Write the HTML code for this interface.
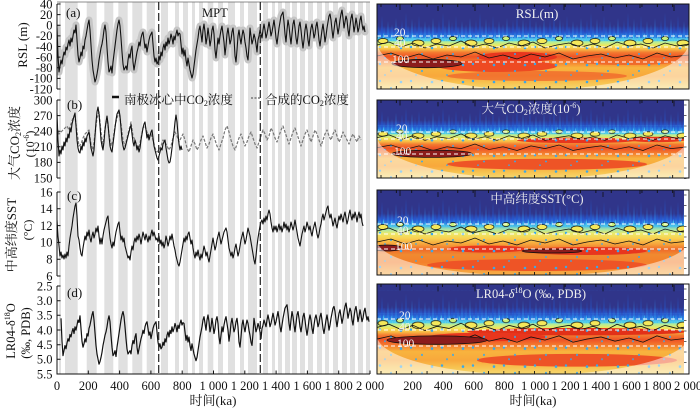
<!DOCTYPE html>
<html><head><meta charset="utf-8">
<style>
html,body{margin:0;padding:0;background:#fff;width:700px;height:410px;overflow:hidden}
svg{display:block}
text{font-family:"Liberation Serif","Noto Serif CJK SC",serif;fill:#111}
</style></head><body>
<svg xmlns="http://www.w3.org/2000/svg" xmlns:xlink="http://www.w3.org/1999/xlink" width="700" height="410" viewBox="0 0 700 410">
<defs>
<linearGradient id="wg" x1="0" y1="0" x2="0" y2="1">
<stop offset="0" stop-color="#30358a"/>
<stop offset="0.26" stop-color="#30358a"/>
<stop offset="0.33" stop-color="#2a4cc0"/>
<stop offset="0.38" stop-color="#2a86e4"/>
<stop offset="0.42" stop-color="#60d0ea"/>
<stop offset="0.45" stop-color="#b8ee94"/>
<stop offset="0.49" stop-color="#f2e85a"/>
<stop offset="0.53" stop-color="#f8be46"/>
<stop offset="0.57" stop-color="#f37a30"/>
<stop offset="0.62" stop-color="#ee5426"/>
<stop offset="0.68" stop-color="#f47c2e"/>
<stop offset="0.75" stop-color="#f8b43e"/>
<stop offset="0.85" stop-color="#f8a83c"/>
<stop offset="0.93" stop-color="#f7c452"/>
<stop offset="1" stop-color="#f6d870"/>
</linearGradient>
<linearGradient id="wg3" x1="0" y1="0" x2="0" y2="1">
<stop offset="0" stop-color="#30358a"/>
<stop offset="0.28" stop-color="#30358a"/>
<stop offset="0.35" stop-color="#2c56cc"/>
<stop offset="0.41" stop-color="#3aa8ea"/>
<stop offset="0.46" stop-color="#9ee4b0"/>
<stop offset="0.51" stop-color="#ecea6a"/>
<stop offset="0.57" stop-color="#f8d050"/>
<stop offset="0.64" stop-color="#f6a23a"/>
<stop offset="0.70" stop-color="#ef6a2a"/>
<stop offset="0.76" stop-color="#f08a30"/>
<stop offset="0.85" stop-color="#f4802c"/>
<stop offset="1" stop-color="#f6b048"/>
</linearGradient>
<clipPath id="cl"><rect x="57" y="2" width="313" height="372"/></clipPath>
<clipPath id="c1"><rect x="377" y="4" width="312" height="85"/></clipPath>
<clipPath id="c2"><rect x="377" y="100" width="312" height="78"/></clipPath>
<clipPath id="c3"><rect x="377" y="190" width="312" height="85"/></clipPath>
<clipPath id="c4"><rect x="377" y="284" width="312" height="90"/></clipPath>

<pattern id="fl" patternUnits="userSpaceOnUse" x="0" y="6" width="37" height="28">
<path fill="#2060dc" d="M0.5,28L1,12L1.5,28Z M4.4,28L5,6L5.6,28Z M8.5,28L9,22L9.5,28Z M12.4,28L13,17L13.6,28Z M16.5,28L17,21L17.5,28Z M20.4,28L21,15L21.6,28Z M24.4,28L25,10L25.6,28Z M28.4,28L29,3L29.6,28Z M32.5,28L33,20L33.5,28Z"/>
<path fill="#2b86ea" d="M2.5,28L3,20L3.5,28Z M6.5,28L7,16L7.5,28Z M10.4,28L11,11L11.6,28Z M14.5,28L15,14L15.5,28Z M18.4,28L19,8L19.6,28Z M22.5,28L23,23L23.5,28Z M26.5,28L27,19L27.5,28Z M30.5,28L31,15L31.5,28Z M34.4,28L35,9L35.6,28Z"/>
</pattern>
<pattern id="fc" patternUnits="userSpaceOnUse" x="0" y="28" width="29" height="9">
<path fill="#48c8ee" d="M0,9L1.2,3L2.4,9Z M2.6,9L3.8,6L5,9Z M5.2,9L6.4,1L7.6,9Z M7.8,9L9,5L10.2,9Z M10.4,9L11.6,7L12.8,9Z M13,9L14.2,2L15.4,9Z M15.6,9L16.8,6L18,9Z M18.2,9L19.4,4L20.6,9Z M20.8,9L22,8L23.2,9Z M23.4,9L24.6,2L25.8,9Z M26,9L27.2,5L28.4,9Z"/>
</pattern>
<pattern id="yb" patternUnits="userSpaceOnUse" x="0" y="31" width="53" height="12">
<ellipse cx="6" cy="6" rx="5" ry="2.5" fill="#f4e85a" stroke="#111" stroke-width="0.7"/>
<ellipse cx="23" cy="3.5" rx="3.5" ry="2" fill="#c8f07a" stroke="#111" stroke-width="0.7"/>
<ellipse cx="41" cy="8" rx="6" ry="3" fill="#f4e85a" stroke="#111" stroke-width="0.7"/>
</pattern>
<pattern id="dt" patternUnits="userSpaceOnUse" x="0" y="40" width="31" height="17">
<g fill="#3aa8ea">
<circle cx="3" cy="3" r="1.2"/><circle cx="14" cy="10" r="1"/><circle cx="24" cy="4" r="1.3"/><circle cx="8" cy="14" r="0.9"/>
</g>
</pattern>

<g id="common">
<rect x="0" y="6" width="312" height="28" fill="url(#fl)"/>
<rect x="0" y="28" width="312" height="9" fill="url(#fc)"/>
<rect x="0" y="31" width="312" height="12" fill="url(#yb)"/>
<rect x="0" y="40" width="312" height="45" fill="url(#dt)"/>
<path fill="none" stroke="#111" stroke-width="0.8" d="M0,41 L12,38 L24,43 L36,39 L48,44 L60,40 L72,42 L84,37 L96,43 L108,40 L120,44 L132,39 L144,42 L156,38 L168,44 L180,41 L192,39 L204,43 L216,40 L228,44 L240,38 L252,42 L264,40 L276,44 L288,39 L300,42 L312,40"/>
<path fill="none" stroke="#111" stroke-width="0.8" d="M0,52 L14,49 L28,54 L42,50 L56,55 L70,51 L84,53 L98,48 L112,54 L126,51 L140,55 L154,50 L168,53 L182,49 L196,55 L210,52 L224,50 L238,54 L252,51 L266,55 L280,49 L294,53 L312,51"/>
<path stroke="#111" stroke-width="0.8" d="M23,0v6M61,2v5M98,0v7M142,1v4M187,0v6M226,2v5M263,0v4M297,1v6"/>
</g>

<path id="tk" fill="none" stroke="#111" stroke-width="0.9" d="M381,0v-3M396.35,0v-3M411.7,0v-3M427.05,0v-3M442.4,0v-3M457.75,0v-3M473.1,0v-3M488.45,0v-3M503.8,0v-3M519.15,0v-3M534.5,0v-3M549.85,0v-3M565.2,0v-3M580.55,0v-3M595.9,0v-3M611.25,0v-3M626.6,0v-3M641.95,0v-3M657.3,0v-3M672.65,0v-3"/>
<path id="stk" fill="none" stroke="#333" stroke-width="0.8" d="M684,5h2.5M684,15.5h2.5M684,26h2.5M684,36.5h2.5M684,47h2.5M684,57.5h2.5M684,68h2.5M684,78.5h2.5"/>

<polyline id="rp" points="57,28 58,55 59,72 60,66 61,60 62,64 63,57 64,52 65,55 66,47 67,50 68,44 69,40 70,46 71,38 72,42 73,36 74,30 75,33 76,25 77,40 78,55 79,62 80,58 81,52 82,56 83,46 84,49 85,40 86,36 87,30 88,24 89,20 90,30 91,45 92,60 93,70 94,76 95,82 96,79 97,74 98,68 99,60 100,54 101,48 102,44 103,38 104,30 105,25 106,32 107,48 108,62 109,72 110,70 111,66 112,73 113,62 114,54 115,46 116,38 117,30 118,24 119,20 120,26 121,38 122,52 123,64 124,70 125,68 126,66 127,70 128,60 129,54 130,58 131,50 132,46 133,62 134,70 135,64 136,58 137,52 138,48 139,42 140,46 141,38 142,34 143,32 144,40 145,48 146,44 147,52 148,46 149,40 150,36 151,34 152,32 153,44 154,56 155,62 156,58 157,64 158,62 159,56 160,60 161,52 162,56 163,48 164,44 165,50 166,42 167,46 168,38 169,44 170,40 171,34 172,38 173,44 174,36 175,40 176,34 177,30 178,36 179,33 180,34 181,44 182,54 183,48 184,56 185,50 186,60 187,66 188,58 189,64 190,70 191,74 192,78 193,74 194,66 195,58 196,50 197,44 198,38 199,30 200,26 201,34 202,42 203,30 204,24 205,32 206,44 207,38 208,28 209,36 210,46 211,40 212,30 213,26 214,34 215,50 216,58 217,48 218,38 219,44 220,36 221,30 222,26 223,34 224,42 225,55 226,46 227,34 228,28 229,36 230,44 231,40 232,32 233,28 234,38 235,56 236,62 237,50 238,36 239,30 240,38 241,44 242,36 243,30 244,34 245,42 246,48 247,56 248,60 249,46 250,28 251,36 252,44 253,40 254,34 255,38 256,44 257,52 258,40 259,36 260,30 261,34 262,38 263,30 264,24 265,30 266,38 267,34 268,28 269,22 270,28 271,36 272,32 273,26 274,20 275,28 276,38 277,44 278,36 279,28 280,22 281,16 282,14 283,12 284,22 285,34 286,42 287,30 288,20 289,26 290,36 291,44 292,34 293,24 294,20 295,28 296,38 297,44 298,36 299,26 300,22 301,30 302,40 303,48 304,40 305,30 306,24 307,30 308,40 309,46 310,36 311,28 312,24 313,30 314,38 315,34 316,26 317,22 318,30 319,40 320,46 321,38 322,30 323,24 324,32 325,42 326,36 327,28 328,22 329,16 330,14 331,20 332,30 333,38 334,30 335,22 336,18 337,26 338,34 339,28 340,20 341,14 342,10 343,18 344,28 345,22 346,16 347,20 348,30 349,36 350,26 351,18 352,14 353,22 354,32 355,26 356,18 357,24 358,32 359,28 360,20 361,16 362,24 363,30 364,26 365,32"/>
</defs>

<!-- grey bands -->
<g fill="#e0e0e0">
<rect x="59" y="2" width="2" height="372"/><rect x="65" y="2" width="12.7" height="372"/><rect x="86.7" y="2" width="10" height="372"/><rect x="104.3" y="2" width="9" height="372"/><rect x="118.3" y="2" width="9.4" height="372"/><rect x="132.3" y="2" width="10" height="372"/><rect x="146.7" y="2" width="8.3" height="372"/><rect x="161" y="2" width="7" height="372"/><rect x="175" y="2" width="4" height="372"/><rect x="183" y="2" width="5" height="372"/><rect x="192" y="2" width="3" height="372"/><rect x="199" y="2" width="4" height="372"/><rect x="207.7" y="2" width="5.6" height="372"/><rect x="218" y="2" width="5" height="372"/><rect x="228" y="2" width="7" height="372"/><rect x="240" y="2" width="4" height="372"/><rect x="248" y="2" width="9" height="372"/><rect x="263" y="2" width="5" height="372"/><rect x="272" y="2" width="3" height="372"/><rect x="278" y="2" width="4" height="372"/><rect x="285" y="2" width="5" height="372"/><rect x="292" y="2" width="5" height="372"/><rect x="300" y="2" width="5" height="372"/><rect x="308" y="2" width="5" height="372"/><rect x="317" y="2" width="5" height="372"/><rect x="325" y="2" width="4" height="372"/><rect x="333" y="2" width="5" height="372"/><rect x="342" y="2" width="5" height="372"/><rect x="350" y="2" width="5" height="372"/><rect x="358" y="2" width="5" height="372"/><rect x="366" y="2" width="4" height="372"/>
</g>
<line x1="57" y1="2" x2="370" y2="2" stroke="#666" stroke-width="0.8"/>

<!-- series -->
<g clip-path="url(#cl)" fill="none" stroke-linejoin="round">
<use xlink:href="#rp" href="#rp" stroke="#c6c6c6" stroke-width="7" stroke-linecap="round"/>
<use xlink:href="#rp" href="#rp" stroke="#111" stroke-width="1.1"/>
<polyline stroke="#777" stroke-width="1.2" stroke-dasharray="3 1.5" points="57,128 59,134 61,132 63,130 65,128 67,126 69,130 71,124 73,118 75,116 77,132 79,146 81,144 83,138 85,134 87,132 89,130 91,144 93,150 95,134 97,118 99,112 101,132 103,146 105,128 107,118 109,134 111,146 113,140 115,126 117,118 119,112 121,124 123,140 125,146 127,138 129,130 131,122 133,136 135,140 137,146 139,148 141,138 143,128 145,126 147,132 149,136 151,134 153,140 155,148 157,152 159,150 161,146 163,140 165,142 167,146 169,150 171,146 173,138 175,132 177,136 179,142 181,138 183,134 185,140 187,148 189,152 191,146 193,140 195,144 197,150 199,146 201,140 203,136 205,142 207,148 209,144 211,138 213,134 215,140 217,146 219,150 221,144 223,138 225,130 227,126 229,132 231,140 233,146 235,150 237,144 239,138 241,134 243,140 245,146 247,142 249,136 251,132 253,138 255,144 257,148 259,142 261,136 263,130 265,134 267,140 269,136 271,128 273,132 275,138 277,142 279,136 281,130 283,126 285,132 287,138 289,144 291,138 293,132 295,128 297,134 299,140 301,146 303,140 305,134 307,130 309,136 311,142 313,136 315,130 317,134 319,140 321,146 323,140 325,134 327,130 329,136 331,140 333,134 335,130 337,136 339,142 341,138 343,132 345,136 347,140 349,144 351,138 353,134 355,138 357,142 359,136 361,140"/>
<polyline stroke="#111" stroke-width="1.1" points="57,113 58,140 59,156 60,150 61,154 62,146 63,150 64,142 65,146 66,138 67,142 68,134 69,138 70,128 71,132 72,124 73,120 74,116 75,113 76,126 77,140 78,148 79,152 80,153 81,146 82,150 83,142 84,146 85,138 86,142 87,136 88,134 89,132 90,140 91,148 92,152 93,156 94,150 95,136 96,122 97,112 98,107 99,114 100,126 101,140 102,146 103,150 104,142 105,130 106,122 107,116 108,124 109,136 110,146 111,150 112,152 113,144 114,136 115,128 116,120 117,114 118,112 119,110 120,116 121,128 122,140 123,146 124,150 125,148 126,144 127,140 128,136 129,132 130,128 131,125 132,134 133,142 134,146 135,140 136,144 137,150 138,146 139,152 140,148 141,140 142,134 143,128 144,124 145,122 146,130 147,138 148,134 149,140 150,136 151,132 152,130 153,138 154,146 155,150 156,154 157,158 158,160 159,156 160,152 161,148 162,150 163,144 164,142 165,140 166,148 167,154 168,160 169,163 170,162 171,156 172,148 173,140 174,132 175,122 176,115 177,122 178,134 179,144 180,150 181,146 182,150"/>
<polyline stroke="#111" stroke-width="1.1" points="57,220 58,236 59,246 60,256 61,252 62,258 63,255 64,259 65,254 66,258 67,252 68,256 69,246 70,238 71,232 72,226 73,218 74,212 75,206 76,203 77,216 78,236 79,240 80,248 81,254 82,256 83,248 84,242 85,236 86,240 87,232 88,236 89,230 90,238 91,242 92,236 93,232 94,238 95,234 96,228 97,232 98,226 99,236 100,244 101,238 102,244 103,236 104,230 105,226 106,222 107,218 108,216 109,228 110,238 111,244 112,248 113,242 114,246 115,238 116,232 117,228 118,224 119,222 120,232 121,240 122,236 123,242 124,238 125,246 126,250 127,254 128,258 129,256 130,260 131,252 132,246 133,250 134,242 135,238 136,242 137,236 138,240 139,234 140,238 141,244 142,238 143,232 144,236 145,240 146,234 147,238 148,242 149,236 150,240 151,234 152,230 153,236 154,232 155,236 156,240 157,238 158,242 159,236 160,244 161,240 162,246 163,242 164,248 165,244 166,236 167,240 168,246 169,242 170,236 171,240 172,234 173,240 174,246 175,250 176,256 177,260 178,264 179,266 180,262 181,256 182,250 183,244 184,238 185,242 186,236 187,240 188,234 189,232 190,238 191,244 192,240 193,248 194,254 195,258 196,252 197,256 198,250 199,256 200,260 201,254 202,258 203,252 204,246 205,250 206,256 207,252 208,258 209,262 210,256 211,250 212,244 213,238 214,244 215,250 216,246 217,240 218,236 219,232 220,238 221,244 222,240 223,236 224,232 225,230 226,228 227,232 228,240 229,248 230,252 231,256 232,252 233,258 234,254 235,248 236,244 237,250 238,256 239,252 240,246 241,240 242,236 243,232 244,238 245,244 246,240 247,234 248,228 249,232 250,236 251,242 252,248 253,254 254,260 255,264 256,256 257,246 258,238 259,232 260,226 261,222 262,220 263,224 264,218 265,222 266,216 267,220 268,214 269,210 270,214 271,222 272,228 273,232 274,226 275,230 276,226 277,232 278,228 279,224 280,230 281,226 282,232 283,228 284,222 285,228 286,224 287,230 288,226 289,232 290,228 291,222 292,226 293,230 294,226 295,220 296,226 297,232 298,238 299,242 300,246 301,240 302,234 303,230 304,226 305,232 306,228 307,222 308,226 309,230 310,226 311,232 312,236 313,230 314,226 315,222 316,228 317,234 318,238 319,234 320,228 321,224 322,218 323,214 324,220 325,216 326,212 327,208 328,206 329,214 330,218 331,214 332,220 333,226 334,222 335,218 336,224 337,228 338,222 339,216 340,220 341,214 342,218 343,222 344,216 345,212 346,218 347,224 348,220 349,214 350,210 351,216 352,220 353,214 354,218 355,212 356,216 357,222 358,216 359,212 360,218 361,214 362,222 363,226"/>
<use xlink:href="#rp" href="#rp" stroke="#111" stroke-width="1.2" transform="translate(4,294.5) scale(1,0.85)"/>
</g>

<g stroke="#222" stroke-width="1.2" stroke-dasharray="8 3">
<line x1="158.7" y1="2" x2="158.7" y2="374"/>
<line x1="260.3" y1="2" x2="260.3" y2="374"/>
</g>

<!-- left axes -->
<g stroke="#111" stroke-width="1" fill="none">
<path d="M57,4V89M57,100V178M57,192V276M57,286V374H370"/>
<path d="M57,4h3.5M57,14.6h3.5M57,25.25h3.5M57,35.9h3.5M57,46.5h3.5M57,57.1h3.5M57,67.75h3.5M57,78.4h3.5M57,89h3.5
M57,100h3.5M57,115.6h3.5M57,131.2h3.5M57,146.8h3.5M57,162.4h3.5M57,178h3.5
M57,192h3.5M57,208.8h3.5M57,225.6h3.5M57,242.4h3.5M57,259.2h3.5M57,276h3.5
M57,286h3.5M57,300.7h3.5M57,315.3h3.5M57,330h3.5M57,344.7h3.5M57,359.3h3.5
M57,374v-3.5M88.3,374v-3.5M119.6,374v-3.5M150.9,374v-3.5M182.2,374v-3.5M213.5,374v-3.5M244.8,374v-3.5M276.1,374v-3.5M307.4,374v-3.5M338.7,374v-3.5M370,374v-3.5"/>
</g>
<g font-size="12.5" text-anchor="end">
<text x="52.5" y="8.3">40</text><text x="52.5" y="18.9">20</text><text x="52.5" y="29.5">0</text><text x="52.5" y="40.2">-20</text><text x="52.5" y="50.8">-40</text><text x="52.5" y="61.4">-60</text><text x="52.5" y="72">-80</text><text x="52.5" y="82.7">-100</text><text x="52.5" y="93.3">-120</text>
<text x="52.5" y="104.3">300</text><text x="52.5" y="119.9">270</text><text x="52.5" y="135.5">240</text><text x="52.5" y="151.1">210</text><text x="52.5" y="166.7">180</text><text x="52.5" y="182.3">150</text>
<text x="52.5" y="196.3">16</text><text x="52.5" y="213.1">14</text><text x="52.5" y="229.9">12</text><text x="52.5" y="246.7">10</text><text x="52.5" y="263.5">8</text><text x="52.5" y="280.3">6</text>
<text x="52.5" y="290.3">2.5</text><text x="52.5" y="305">3.0</text><text x="52.5" y="319.6">3.5</text><text x="52.5" y="334.3">4.0</text><text x="52.5" y="349">4.5</text><text x="52.5" y="363.6">5.0</text><text x="52.5" y="378.3">5.5</text>
</g>
<g font-size="12.5" text-anchor="middle">
<text x="57" y="390">0</text><text x="88.3" y="390">200</text><text x="119.6" y="390">400</text><text x="150.9" y="390">600</text><text x="182.2" y="390">800</text><text x="213.5" y="390">1 000</text><text x="244.8" y="390">1 200</text><text x="276.1" y="390">1 400</text><text x="307.4" y="390">1 600</text><text x="338.7" y="390">1 800</text><text x="370" y="390">2 000</text>
<text x="412.6" y="390">200</text><text x="443.2" y="390">400</text><text x="473.8" y="390">600</text><text x="504.4" y="390">800</text><text x="535" y="390">1 000</text><text x="565.6" y="390">1 200</text><text x="596.2" y="390">1 400</text><text x="626.8" y="390">1 600</text><text x="657.4" y="390">1 800</text><text x="688" y="390">2 000</text>
</g>

<!-- wavelet panel 1 -->
<g clip-path="url(#c1)">
<g transform="translate(377,4)">
<rect width="312" height="85" fill="url(#wg)"/>
<ellipse cx="140" cy="53" rx="40" ry="5" fill="#e8361e"/>
<ellipse cx="120" cy="62" rx="60" ry="6" fill="#ee4a22"/>
<ellipse cx="250" cy="57" rx="50" ry="4" fill="#f06a2a"/>
<ellipse cx="160" cy="72" rx="90" ry="5" fill="#ee5426" opacity="0.6"/>
<use xlink:href="#common" href="#common"/>
<ellipse cx="50" cy="59.5" rx="35" ry="4.2" fill="#8c1c1c" stroke="#111" stroke-width="0.8"/>
<path d="M0,37.4L0,86L312,86L312,37.4A156,48.6 0 0 1 0,37.4Z" fill="#fff" opacity="0.5"/>
</g>
<g stroke="#fff" stroke-width="1.1" stroke-dasharray="4 3">
<line x1="377" x2="689" y1="36" y2="36"/><line x1="377" x2="689" y1="47" y2="47"/><line x1="377" x2="689" y1="62" y2="62"/>
</g>
<g font-size="11.5"><text x="394" y="36" style="fill:#f2f2f2">20</text><text x="394" y="46.5" style="fill:#f2f2f2">40</text><text x="392" y="63" style="fill:#f2f2f2">100</text></g>
</g>

<!-- wavelet panel 2 -->
<g clip-path="url(#c2)">
<g transform="translate(377,100) scale(1,0.9176)">
<rect width="312" height="85" fill="url(#wg)"/>
<ellipse cx="200" cy="44" rx="60" ry="3" fill="#e8361e"/>
<ellipse cx="280" cy="43" rx="30" ry="3" fill="#e8361e"/>
<ellipse cx="170" cy="70" rx="100" ry="6" fill="#ee5426"/>
<use xlink:href="#common" href="#common"/>
<ellipse cx="55" cy="58.6" rx="40" ry="4" fill="#8c1c1c" stroke="#111" stroke-width="0.8"/>
<path d="M0,39.1L0,86L312,86L312,39.1A156,46.9 0 0 1 0,39.1Z" fill="#fff" opacity="0.5"/>
</g>
<g stroke="#fff" stroke-width="1.1" stroke-dasharray="4 3">
<line x1="377" x2="689" y1="132" y2="132"/><line x1="377" x2="689" y1="139" y2="139"/><line x1="377" x2="689" y1="154" y2="154"/>
</g>
<g font-size="11.5"><text x="396" y="132" style="fill:#f2f2f2">20</text><text x="396" y="139.5" style="fill:#f2f2f2">40</text><text x="394" y="155" style="fill:#f2f2f2">100</text></g>
</g>

<!-- wavelet panel 3 -->
<g clip-path="url(#c3)">
<g transform="translate(377,190)">
<rect width="312" height="85" fill="url(#wg3)"/>
<ellipse cx="110" cy="59" rx="40" ry="3.5" fill="#e8361e"/>
<ellipse cx="210" cy="61" rx="60" ry="4" fill="#e8361e"/>
<ellipse cx="160" cy="75" rx="110" ry="6" fill="#ee5426"/>
<use xlink:href="#common" href="#common"/>
<ellipse cx="10" cy="58" rx="15" ry="3" fill="#8c1c1c" stroke="#111" stroke-width="0.8"/>
<ellipse cx="175" cy="61" rx="30" ry="2" fill="#8c1c1c" stroke="#111" stroke-width="0.8"/>
<path d="M0,50.2L0,86L312,86L312,50.2A156,35.8 0 0 1 0,50.2Z" fill="#fff" opacity="0.5"/>
</g>
<g stroke="#fff" stroke-width="1.1" stroke-dasharray="4 3">
<line x1="377" x2="689" y1="224" y2="224"/><line x1="377" x2="689" y1="234" y2="234"/><line x1="377" x2="689" y1="249" y2="249"/>
</g>
<g font-size="11.5"><text x="397" y="224" style="fill:#f2f2f2">20</text><text x="397" y="234" style="fill:#f2f2f2">40</text><text x="395" y="250" style="fill:#f2f2f2">100</text></g>
</g>

<!-- wavelet panel 4 -->
<g clip-path="url(#c4)">
<g transform="translate(377,284) scale(1,1.0588)">
<rect width="312" height="85" fill="url(#wg)"/>
<ellipse cx="200" cy="45" rx="110" ry="3.5" fill="#e23018"/>
<ellipse cx="110" cy="50" rx="60" ry="4" fill="#e8361e"/>
<ellipse cx="200" cy="72" rx="100" ry="6" fill="#ee5426"/>
<use xlink:href="#common" href="#common"/>
<ellipse cx="60" cy="53" rx="50" ry="4" fill="#8c1c1c" stroke="#111" stroke-width="0.8"/>
<path d="M0,48.5L0,86L312,86L312,48.5A156,37.5 0 0 1 0,48.5Z" fill="#fff" opacity="0.5"/>
</g>
<g stroke="#fff" stroke-width="1.1" stroke-dasharray="4 3">
<line x1="377" x2="689" y1="319" y2="319"/><line x1="377" x2="689" y1="330" y2="330"/><line x1="377" x2="689" y1="346" y2="346"/>
</g>
<g font-size="11.5"><text x="399" y="319" style="fill:#f2f2f2">20</text><text x="399" y="330.5" style="fill:#f2f2f2">40</text><text x="397" y="347" style="fill:#f2f2f2">100</text></g>
</g>

<!-- right panel frames -->
<g>
<rect x="684" y="100" width="5" height="78" fill="#fff"/>
<rect x="684" y="190" width="5" height="85" fill="#fff"/>
<rect x="684" y="284" width="5" height="90" fill="#fff"/>
<use xlink:href="#stk" href="#stk" transform="translate(0,100)"/>
<use xlink:href="#stk" href="#stk" transform="translate(0,190)"/>
<use xlink:href="#stk" href="#stk" transform="translate(0,284)"/>
<use xlink:href="#tk" href="#tk" transform="translate(0,89)"/>
<use xlink:href="#tk" href="#tk" transform="translate(0,178)"/>
<use xlink:href="#tk" href="#tk" transform="translate(0,275)"/>
<use xlink:href="#tk" href="#tk" transform="translate(0,374)"/>
<use xlink:href="#tk" href="#tk" transform="translate(0,4) scale(1,-1)"/>
<use xlink:href="#tk" href="#tk" transform="translate(0,100) scale(1,-1)"/>
<use xlink:href="#tk" href="#tk" transform="translate(0,190) scale(1,-1)"/>
<use xlink:href="#tk" href="#tk" transform="translate(0,284) scale(1,-1)"/>
<g fill="none" stroke="#111" stroke-width="1">
<rect x="377" y="4" width="312" height="85"/>
<rect x="377" y="100" width="312" height="78"/>
<rect x="377" y="190" width="312" height="85"/>
<rect x="377" y="284" width="312" height="90"/>
</g>
</g>

<!-- left panel letters -->
<text x="66" y="17" font-size="13">(a)</text>
<text x="202" y="17" font-size="12.5">MPT</text>
<text x="67" y="109" font-size="13">(b)</text>
<text x="67" y="200" font-size="13">(c)</text>
<text x="67" y="297" font-size="13">(d)</text>

<!-- legend -->
<line x1="112" y1="97" x2="119" y2="97" stroke="#111" stroke-width="2.5"/>
<text x="124" y="104" font-size="12.5">南极冰心中CO<tspan font-size="8" dy="2">2</tspan><tspan dy="-2">浓度</tspan></text>
<line x1="251" y1="98" x2="261" y2="98" stroke="#777" stroke-width="1.5" stroke-dasharray="2 1.5"/>
<text x="265" y="104" font-size="12.5">合成的CO<tspan font-size="8" dy="2">2</tspan><tspan dy="-2">浓度</tspan></text>

<!-- left y labels -->
<text transform="translate(27,45) rotate(-90)" font-size="13" text-anchor="middle">RSL (m)</text>
<text transform="translate(19,143) rotate(-90)" font-size="13" text-anchor="middle">大气CO<tspan font-size="8" dy="2">2</tspan><tspan dy="-2">浓度</tspan></text>
<text transform="translate(34,144) rotate(-90)" font-size="12" text-anchor="middle">(10<tspan font-size="8" dy="-5">-6</tspan><tspan dy="5">)</tspan></text>
<text transform="translate(16,235) rotate(-90)" font-size="13" text-anchor="middle">中高纬度SST</text>
<text transform="translate(32,230) rotate(-90)" font-size="12" text-anchor="middle">(°C)</text>
<text transform="translate(15,331) rotate(-90)" font-size="12.5" text-anchor="middle">LR04-δ<tspan font-size="8" dy="-5">18</tspan><tspan dy="5">O</tspan></text>
<text transform="translate(30,333) rotate(-90)" font-size="12.5" text-anchor="middle">(‰, PDB)</text>

<!-- x titles -->
<text x="213" y="405" font-size="13" text-anchor="middle">时间(ka)</text>
<text x="533" y="405" font-size="13" text-anchor="middle">时间(ka)</text>

<!-- right titles -->
<text x="537" y="18" font-size="13" text-anchor="middle" style="fill:#f2f2f2">RSL(m)</text>
<text x="531" y="113" font-size="12.5" text-anchor="middle" style="fill:#eeeeee">大气CO<tspan font-size="8" dy="2">2</tspan><tspan dy="-2">浓度(10</tspan><tspan font-size="8" dy="-5">-6</tspan><tspan dy="5">)</tspan></text>
<text x="537" y="203" font-size="12.5" text-anchor="middle" style="fill:#eeeeee">中高纬度SST(°C)</text>
<text x="531" y="298" font-size="12.5" text-anchor="middle" style="fill:#eeeeee">LR04-<tspan font-style="italic">δ</tspan><tspan font-size="8" dy="-5">18</tspan><tspan dy="5">O (‰, PDB)</tspan></text>
</svg>
</body></html>
